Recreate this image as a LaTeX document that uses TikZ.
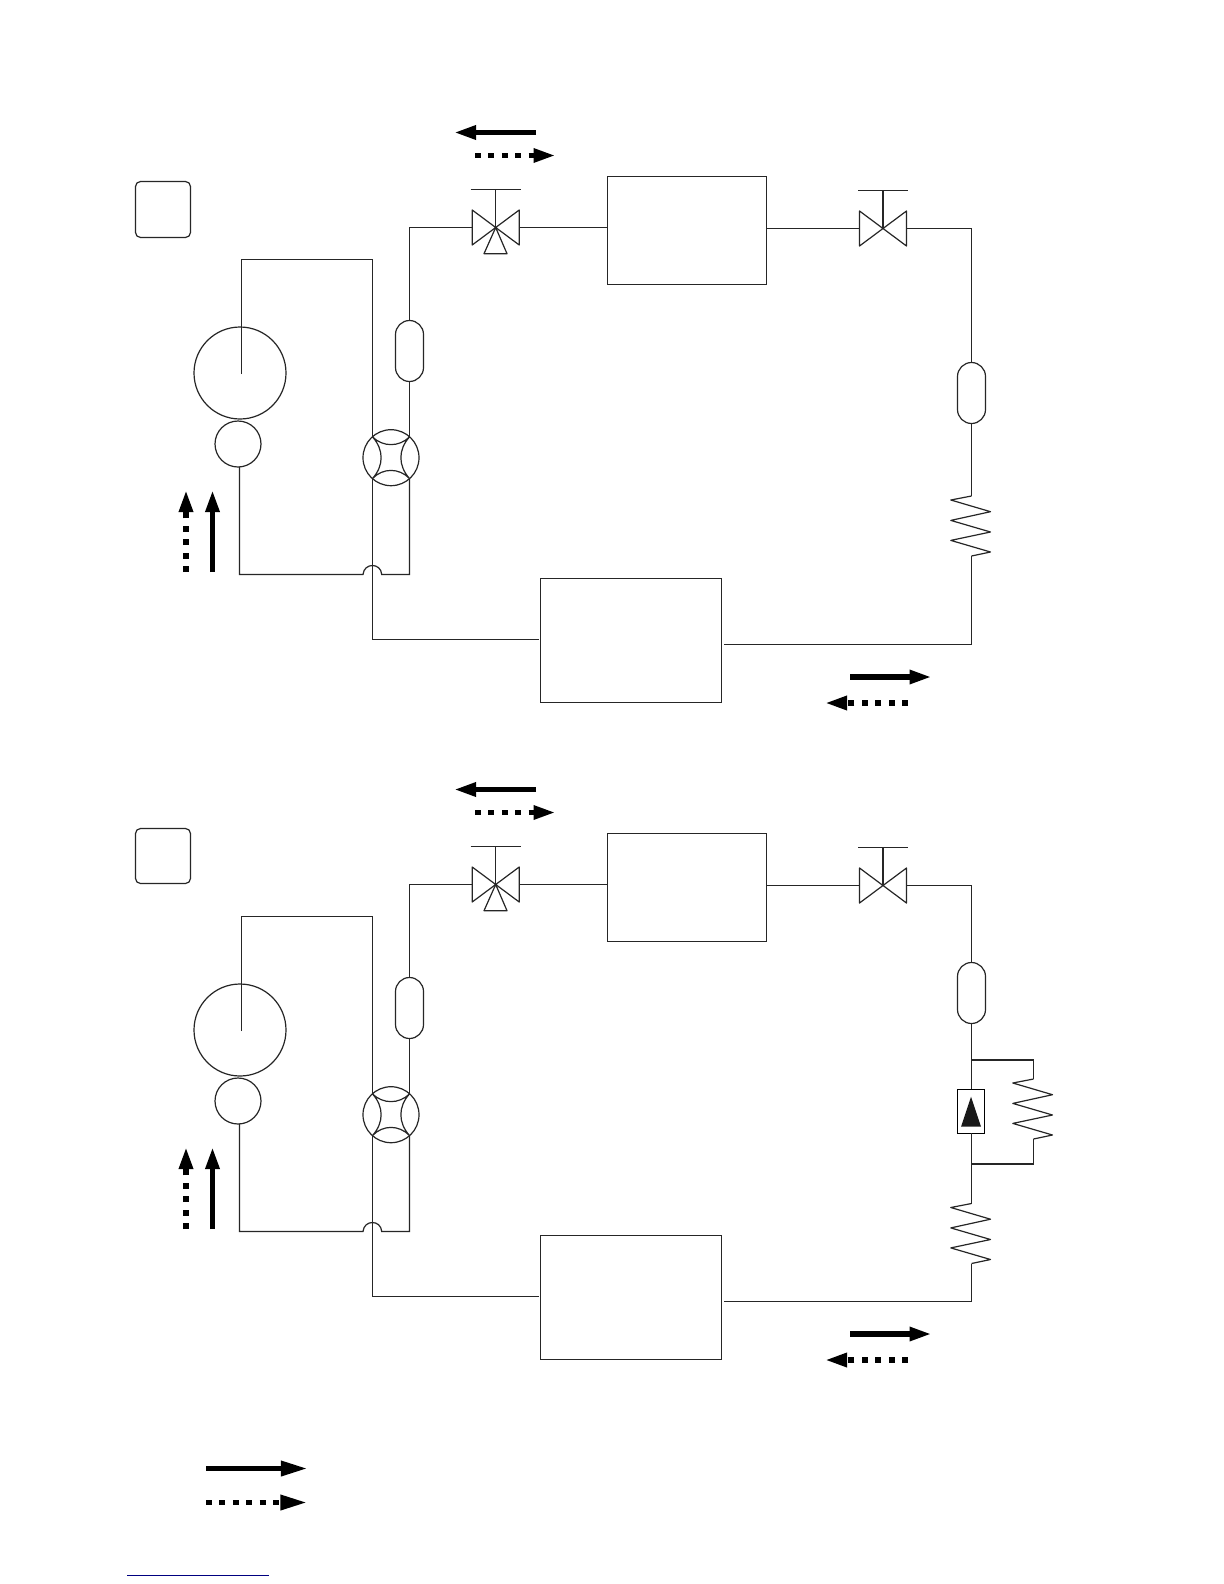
\documentclass[tikz,border=0pt]{standalone}
\usetikzlibrary{arrows.meta}
\tikzset{
  pipe/.style={line width=0.6pt,black!85,line join=miter},
  coilline/.style={pipe,line join=round},
  unitbox/.style={draw,line width=0.6pt,black!85,rectangle,inner sep=0pt,outer sep=0pt},
  capsule/.style={unitbox,rounded corners=7pt,minimum width=14pt,minimum height=30.5pt},
  roundcirc/.style={draw,line width=0.6pt,black!85,circle,inner sep=0pt,outer sep=0pt},
  flowsolid/.style={line width=2.65pt,black,-{Triangle[length=11pt,width=6.6pt]}},
  flowdash/.style={flowsolid,dash pattern=on 3pt off 3.7pt},
  legendsolid/.style={flowsolid,-{Triangle[length=13.3pt,width=7.2pt]}},
  legenddash/.style={legendsolid,dash pattern=on 3pt off 3.7pt},
}
\newcommand{\flowarrow}[4]{%
  \coordinate (#2-s) at (#3);
  \coordinate (#2-e) at (#4);
  \draw[#1] (#2-s) -- (#2-e);}
\newcommand{\gatevalve}[2]{%
  \begin{scope}[shift={(#2)}]
    \coordinate (#1) at (0,0);
    \coordinate (#1-l) at (-23.5,0);
    \coordinate (#1-r) at (23.5,0);
    \coordinate (#1-h) at (0,-38);
    \draw[coilline] (-23.5,-17.5) -- (23.5,17.5) -- (23.5,-17.5) -- (-23.5,17.5) -- cycle;
    \draw[pipe] (#1) -- (#1-h);
    \draw[pipe] (-25,-38) -- (25,-38);
  \end{scope}}
\newcommand{\coil}[2]{%
  \begin{scope}[shift={(#2)}]
    \coordinate (#1-a) at (0,0);
    \coordinate (#1-b) at (0,60);
    \draw[coilline] (#1-a) -- (-20.7,4) -- (19,15.7) -- (-20.7,24.4) -- (19,36) -- (-20.7,44.4) -- (19,56) -- (#1-b);
  \end{scope}}
\newcommand{\reversing}[2]{%
  \begin{scope}[shift={(#2)}]
    \node[roundcirc,minimum size=28pt] (#1) at (0,0) {};
    \coordinate (#1-tl) at (-18.5,-20.8);
    \coordinate (#1-tr) at (18.5,-20.8);
    \coordinate (#1-bl) at (-18.5,20.8);
    \coordinate (#1-br) at (18.5,20.8);
    \draw[pipe] (#1-tl) .. controls (-8,-10.5) and (8,-10.5) .. (#1-tr)
                        .. controls (7,-8) and (7,8) .. (#1-br)
                        .. controls (8,10) and (-8,10) .. (#1-bl)
                        .. controls (-7,8) and (-7,-8) .. (#1-tl);
  \end{scope}}
\newcommand{\circuitcore}[1]{%
  \node[roundcirc,minimum size=46pt] (#1comp) at (240,373) {};
  \node[roundcirc,minimum size=23pt] (#1mot) at (238,444) {};
  \coordinate (#1dis) at (241.5,374);
  \coordinate (#1top) at (241.5,259.5);
  \coordinate (#1ttr) at (372.5,259.5);
  \draw[pipe] (#1dis) -- (#1top) -- (#1ttr);
  \reversing{#1rv}{391,457.7}
  \draw[pipe] (#1ttr) -- (#1rv-tl);
  \node[capsule] (#1capl) at (409.5,351) {};
  \draw[pipe] (#1capl.south) -- (#1rv-tr);
  \gatevalve{#1tv}{495.7,227.5}
  \draw[pipe] (#1capl.north) |- (#1tv-l);
  \draw[coilline] (#1tv) -- (484,253.7) -- (507,253.7) -- cycle;
  \node[unitbox,minimum width=79.5pt,minimum height=54pt] (#1idu) at (687,230.5) {};
  \draw[pipe] (#1tv-r) -- (#1idu.west |- #1tv-r);
  \gatevalve{#1gv}{883,228.5}
  \coordinate (#1idr) at (#1idu.east |- #1gv-l);
  \draw[pipe] (#1idr) -- (#1gv-l);
  \coordinate (#1sb) at (239.5,574.5);
  \coordinate (#1b1) at (363,574.5);
  \coordinate (#1b2) at (381.7,574.5);
  \coordinate (#1sr) at (409.5,574.5);
  \draw[pipe] (#1mot.south -| #1sb) -- (#1sb) -- (#1b1)
     .. controls (364,562.5) and (381,562.5) .. (#1b2) -- (#1sr) -- (#1rv-br);
  \node[unitbox,minimum width=90.5pt,minimum height=62pt] (#1odu) at (631,640.5) {};
  \coordinate (#1el) at (538.5,639.5);
  \coordinate (#1er) at (724,644.5);
  \draw[pipe] (#1rv-bl) |- (#1el);
  \flowarrow{flowsolid}{#1fa}{536,132.5}{454,132.5}
  \flowarrow{flowdash}{#1fb}{475,155.5}{555.5,155.5}
  \flowarrow{flowsolid}{#1fc}{212.5,572}{212.5,490}
  \flowarrow{flowdash}{#1fd}{186,572}{186,490}
  \flowarrow{flowsolid}{#1fe}{850,677}{931.5,677}
  \flowarrow{flowdash}{#1ff}{908,703}{825,703}
}
\begin{document}
\begin{tikzpicture}[x=0.5pt,y=-0.5pt]
  \useasboundingbox (0,0) rectangle (1224,1584);
  \fill[white] (0,0) rectangle (1224,1584);

  % upper circuit
  \circuitcore{a}
  \draw[pipe,rounded corners=2.5pt] (135.5,181.5) rectangle (190.5,237.5);
  \node[capsule] (acapr) at (971.5,393) {};
  \draw[pipe] (agv-r) -| (acapr.north);
  \coil{acoil}{971.5,496}
  \draw[pipe] (acapr.south) -- (acoil-a);
  \draw[pipe] (acoil-b) |- (aer);

  % lower circuit
  \begin{scope}[shift={(0,657)}]
    \circuitcore{b}
    \node[capsule] (bcapr) at (971.5,336) {};
    \draw[pipe] (bgv-r) -| (bcapr.north);
    \coil{bcoil}{971.5,546.5}
    \coil{bshunt}{1033.5,422}
    \node[unitbox,draw=black,minimum width=13.5pt,minimum height=22pt] (bchk) at (970.8,454.3) {};
    \fill[black!90] (971,439.7) -- (981,469.7) -- (961,469.7) -- cycle;
    \coordinate (bj1) at (971.5,403);
    \coordinate (bj2) at (971.5,507);
    \draw[pipe] (bcapr.south) -- (bchk.north -| bcapr.south);
    \draw[pipe] (bchk.south -| bcapr.south) -- (bcoil-a);
    \draw[pipe] (bj1) -| (bshunt-a);
    \draw[pipe] (bj2) -| (bshunt-b);
    \draw[pipe] (bcoil-b) |- (ber);
  \end{scope}
  \draw[pipe,rounded corners=2.5pt] (135.5,828.5) rectangle (190.5,883.5);

  % legend
  \flowarrow{legendsolid}{la}{206,1468.5}{307.5,1468.5}
  \flowarrow{legenddash}{lb}{206,1502.5}{307,1502.5}
  \coordinate (la1) at (127,1575.5);
  \coordinate (la2) at (269,1575.5);
  \draw[line width=0.55pt,blue!50!black] (la1) -- (la2);
\end{tikzpicture}
\end{document}
